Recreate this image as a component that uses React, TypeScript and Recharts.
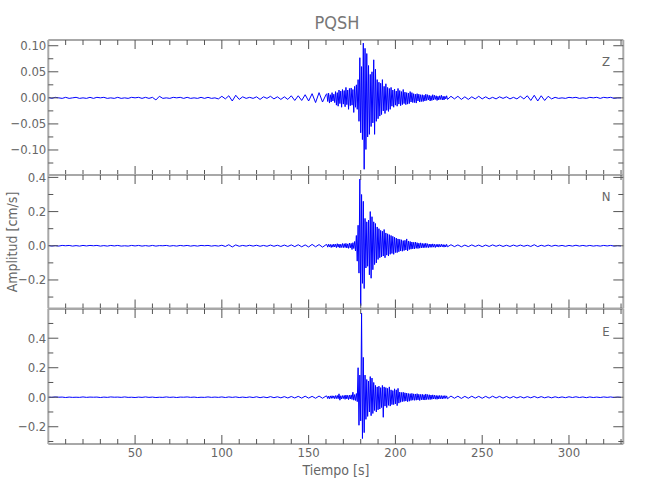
import { LineChart, Line, XAxis, YAxis } from "recharts"

// sampling: 0..160 s every 2 s, 160.5..230 s every 0.5 s, 232..330 s every 2 s
const EARLY_START = 0
const EARLY_STEP = 2
const BURST_START = 160.5
const BURST_STEP = 0.5
const LATE_START = 232
const LATE_STEP = 2

// Z component [cm/s]
const zEarly = [
  0.001, -0.001, 0.001, 0.0, -0.001, 0.001, -0.001, 0.0, 0.001, -0.001,
  0.0, -0.001, 0.001, -0.001, 0.001, 0.0, 0.001, -0.001, 0.0, -0.001,
  0.001, -0.001, 0.0, -0.001, 0.001, 0.0, 0.001, -0.001, 0.001, -0.001,
  0.001, -0.004, 0.003, -0.001, 0.0, -0.001, 0.001, 0.0, 0.001, -0.001,
  0.001, -0.001, 0.0, -0.001, 0.001, -0.001, 0.001, -0.001, 0.0, -0.002,
  0.003, -0.002, 0.004, -0.006, 0.005, -0.003, 0.002, -0.001, 0.001, -0.001,
  0.002, -0.003, 0.002, -0.001, 0.003, -0.002, 0.002, -0.003, 0.002, -0.003,
  0.004, -0.005, 0.004, -0.005, 0.006, -0.006, 0.008, -0.009, 0.010, -0.008,
  0.006,
]
const zBurst = [
  0.008, -0.007, 0.009, -0.010, 0.006, -0.008, 0.010, -0.006, 0.007, -0.009,
  0.012, -0.014, 0.010, -0.016, 0.015, -0.011, 0.013, -0.018, 0.016, -0.012,
  0.014, -0.017, 0.020, -0.013, 0.015, -0.022, 0.018, -0.015, 0.019, -0.014,
  0.016, -0.028, 0.022, -0.018, 0.025, -0.022,
  0.035, -0.045, 0.077, -0.067,
  0.060, -0.080, 0.105, -0.137,
  0.095, -0.099, 0.085, -0.075,
  0.062, -0.070, 0.045, -0.055,
  0.050, -0.048, 0.073, -0.070,
  0.055, -0.045, 0.035, -0.040,
  0.030, -0.035, 0.028, -0.032,
  0.035, -0.025, 0.022, -0.030,
  0.027, -0.024, 0.020, -0.026,
  0.018, -0.022, 0.020, -0.016,
  0.015, -0.018, 0.017, -0.014,
  0.013, -0.016, 0.018, -0.012, 0.014, -0.015, 0.012, -0.013, 0.016, -0.011,
  0.011, -0.013, 0.010, -0.012, 0.009, -0.011, 0.012, -0.008, 0.010, -0.009,
  0.008, -0.009, 0.007, -0.010, 0.008, -0.006, 0.007, -0.008, 0.006, -0.007,
  0.006, -0.007, 0.005, -0.006, 0.007, -0.005, 0.006, -0.004, 0.005, -0.006,
  0.004, -0.005, 0.006, -0.004, 0.005, -0.003, 0.004, -0.005, 0.003, -0.004,
  0.004, -0.003, 0.005, -0.004, 0.003, -0.004, 0.003, -0.002, 0.004, -0.003,
]
const zLate = [
  0.003, -0.002, 0.003, -0.003, 0.002, -0.003, 0.002, -0.002, 0.003, -0.002,
  0.002, -0.002, 0.001, -0.002, 0.002, -0.001, 0.002, -0.002, 0.001, -0.002,
  0.003, -0.002, 0.004, -0.005, 0.005, -0.006, 0.004, -0.005, 0.003, -0.002,
  0.001, -0.001, 0.0, -0.001, 0.001, 0.0, 0.001, -0.001, 0.0, -0.001,
  0.001, 0.0, 0.001, -0.001, 0.001, 0.0, 0.001, -0.001, 0.0, 0.0,
]

// N component
const nEarly = [
  0.002, -0.002, 0.001, -0.002, 0.002, 0.0, 0.002, -0.002, 0.001, -0.002,
  0.002, -0.001, 0.002, 0.0, 0.002, -0.002, 0.001, -0.002, 0.002, -0.001,
  0.002, -0.002, 0.0, -0.002, 0.002, -0.001, 0.002, -0.002, 0.001, -0.002,
  0.002, -0.002, 0.001, 0.0, 0.002, -0.002, 0.001, -0.002, 0.002, -0.001,
  0.002, -0.002, 0.001, -0.002, 0.002, 0.0, 0.002, -0.002, 0.001, -0.002,
  0.003, -0.004, 0.006, -0.007, 0.005, -0.003, 0.002, -0.002, 0.003, -0.002,
  0.003, -0.003, 0.002, -0.003, 0.004, -0.003, 0.003, -0.004, 0.004, -0.004,
  0.005, -0.005, 0.006, -0.006, 0.005, -0.007, 0.008, -0.006, 0.007, -0.008,
  0.006,
]
const nBurst = [
  0.007, -0.008, 0.009, -0.006, 0.008, -0.010, 0.007, -0.008, 0.010, -0.007,
  0.009, -0.011, 0.012, -0.008, 0.010, -0.012, 0.009, -0.010, 0.013, -0.011,
  0.012, -0.010, 0.014, -0.013, 0.011, -0.015, 0.016, -0.012, 0.014, -0.022,
  0.018, -0.016, 0.025, -0.030, 0.060, -0.090,
  0.120, -0.160, 0.390, -0.350,
  0.300, -0.220, 0.260, -0.250,
  0.160, -0.130, 0.140, -0.120,
  0.150, -0.170, 0.200, -0.190,
  0.170, -0.140, 0.140, -0.110,
  0.130, -0.100, 0.110, -0.080,
  0.100, -0.070, 0.090, -0.065,
  0.085, -0.060, 0.095, -0.070,
  0.075, -0.055, 0.070, -0.060,
  0.065, -0.050, 0.060, -0.045,
  0.055, -0.050, 0.050, -0.040,
  0.045, -0.040, 0.040, -0.035, 0.038, -0.030, 0.035, -0.032, 0.030, -0.028,
  0.032, -0.025, 0.040, -0.030, 0.028, -0.022, 0.025, -0.020, 0.022, -0.018,
  0.020, -0.018, 0.022, -0.015, 0.018, -0.016, 0.015, -0.014, 0.017, -0.012,
  0.014, -0.012, 0.013, -0.011, 0.015, -0.010, 0.012, -0.011, 0.010, -0.009,
  0.010, -0.009, 0.011, -0.008, 0.009, -0.010, 0.008, -0.007, 0.009, -0.008,
  0.008, -0.007, 0.009, -0.006, 0.007, -0.008, 0.006, -0.007, 0.008, -0.006,
]
const nLate = [
  0.006, -0.005, 0.005, -0.006, 0.004, -0.005, 0.005, -0.004, 0.004, -0.005,
  0.004, -0.004, 0.005, -0.003, 0.004, -0.004, 0.003, -0.004, 0.004, -0.003,
  0.004, -0.003, 0.003, -0.004, 0.006, -0.005, 0.003, -0.003, 0.004, -0.003,
  0.003, -0.002, 0.002, -0.003, 0.002, -0.002, 0.003, -0.002, 0.002, -0.002,
  0.002, -0.002, 0.001, -0.002, 0.002, -0.001, 0.002, -0.002, 0.001, -0.001,
]

// E component
const eEarly = [
  0.001, -0.001, 0.002, 0.0, 0.001, -0.002, 0.001, -0.001, 0.0, -0.001,
  0.002, -0.001, 0.001, 0.0, 0.001, -0.002, 0.001, -0.001, 0.002, 0.0,
  0.001, -0.001, 0.002, -0.001, 0.0, -0.002, 0.001, -0.001, 0.002, -0.001,
  0.001, -0.002, 0.0, -0.001, 0.002, -0.001, 0.001, -0.002, 0.001, 0.0,
  0.002, -0.001, 0.001, -0.002, 0.0, -0.001, 0.002, -0.001, 0.001, -0.001,
  0.002, -0.002, 0.002, -0.001, 0.002, -0.002, 0.001, -0.002, 0.002, -0.002,
  0.003, -0.003, 0.002, -0.003, 0.004, -0.003, 0.003, -0.004, 0.004, -0.005,
  0.005, -0.005, 0.006, -0.006, 0.007, -0.006, 0.006, -0.007, 0.008, -0.007,
  0.008,
]
const eBurst = [
  0.008, -0.009, 0.007, -0.010, 0.009, -0.008, 0.010, -0.007, 0.009, -0.010,
  0.011, -0.009, 0.012, -0.010, 0.023, -0.020, 0.010, -0.012, 0.011, -0.009,
  0.012, -0.014, 0.015, -0.011, 0.013, -0.016, 0.014, -0.012, 0.016, -0.015,
  0.034, -0.020, 0.018, -0.022, 0.025, -0.030,
  0.200, -0.190, 0.150, -0.160,
  0.570, -0.280, 0.270, -0.240,
  0.150, -0.150, 0.120, -0.130,
  0.110, -0.100, 0.140, -0.125,
  0.130, -0.110, 0.100, -0.090,
  0.080, -0.100, 0.070, -0.085,
  0.075, -0.080, 0.065, -0.070,
  0.080, -0.136, 0.070, -0.060,
  0.065, -0.070, 0.060, -0.055,
  0.070, -0.060, 0.050, -0.050,
  0.045, -0.050, 0.057, -0.045,
  0.050, -0.057, 0.060, -0.040, 0.035, -0.034, 0.032, -0.030, 0.034, -0.028,
  0.030, -0.026, 0.028, -0.030, 0.025, -0.027, 0.024, -0.022, 0.026, -0.020,
  0.023, -0.021, 0.022, -0.020, 0.024, -0.018, 0.020, -0.022, 0.019, -0.017,
  0.020, -0.018, 0.017, -0.019, 0.022, -0.016, 0.018, -0.015, 0.017, -0.016,
  0.015, -0.014, 0.016, -0.012, 0.014, -0.013, 0.012, -0.014, 0.011, -0.012,
  0.012, -0.010, 0.011, -0.012, 0.010, -0.009, 0.011, -0.008, 0.009, -0.010,
]
const eLate = [
  0.008, -0.007, 0.007, -0.008, 0.006, -0.007, 0.007, -0.006, 0.006, -0.007,
  0.006, -0.006, 0.007, -0.005, 0.006, -0.006, 0.005, -0.006, 0.005, -0.005,
  0.004, -0.005, 0.004, -0.004, 0.005, -0.004, 0.004, -0.004, 0.003, -0.004,
  0.003, -0.003, 0.002, -0.003, 0.003, -0.002, 0.003, -0.002, 0.002, -0.003,
  0.002, -0.002, 0.001, -0.002, 0.002, -0.001, 0.002, -0.002, 0.001, -0.001,
]

// axes
const xTicks = [10, 20, 30, 40, 50, 60, 70, 80, 90, 100, 110, 120, 130, 140, 150, 160, 170, 180, 190, 200, 210, 220, 230, 240, 250, 260, 270, 280, 290, 300, 310, 320, 330]
const xMajor = [50, 100, 150, 200, 250, 300]
const xLabels = ["50", "100", "150", "200", "250", "300"]

const zTicks = [-0.125, -0.1, -0.075, -0.05, -0.025, 0, 0.025, 0.05, 0.075, 0.1]
const zMajor = [-0.1, -0.05, 0, 0.05, 0.1]
const zLabels = ["\u22120.10", "\u22120.05", "0.00", "0.05", "0.10"]

const nTicks = [-0.3, -0.2, -0.1, 0, 0.1, 0.2, 0.3, 0.4]
const nMajor = [-0.2, 0, 0.2, 0.4]
const nLabels = ["\u22120.2", "0.0", "0.2", "0.4"]

const eTicks = [-0.3, -0.2, -0.1, 0, 0.1, 0.2, 0.3, 0.4, 0.5]
const eMajor = [-0.2, 0, 0.2, 0.4]
const eLabels = ["\u22120.2", "0.0", "0.2", "0.4"]

const FONT = "'Liberation Sans Narrow', 'DejaVu Sans Condensed', 'Roboto Condensed', sans-serif"
const FRAME = "#a8a8a8"
const TICK = "#555"
const TEXT = "#666"
const X_DOMAIN = [0, 331.3]
const PLOT_LEFT = 48.3
const PLOT_RIGHT = 623.3

function buildTrace(early: number[], burst: number[], late: number[]) {
  const rows: { t: number; v: number }[] = []
  early.forEach((v, i) => rows.push({ t: EARLY_START + i * EARLY_STEP, v }))
  burst.forEach((v, i) => rows.push({ t: BURST_START + i * BURST_STEP, v }))
  late.forEach((v, i) => rows.push({ t: LATE_START + i * LATE_STEP, v }))
  return rows
}

const same = (a: number, b: number) => Math.abs(a - b) < 1e-9

// tick marks point into the frame; label only on major ticks
function XTick(props: any) {
  const { x, y, payload, side, showLabel } = props
  const i = xMajor.findIndex((m) => same(m, payload.value))
  const len = i >= 0 ? 9 : 5
  const dir = side === "top" ? 1 : -1
  return (
    <g>
      <line x1={x} y1={y} x2={x} y2={y + dir * len} stroke={TICK} strokeWidth={1} />
      {showLabel && i >= 0 && (
        <text x={x} y={y + 13} textAnchor="middle" fontSize={13} fill={TEXT} fontFamily={FONT}>
          {xLabels[i]}
        </text>
      )}
    </g>
  )
}

function YTick(props: any) {
  const { x, y, payload, side, major, labels } = props
  const i = major.findIndex((m: number) => same(m, payload.value))
  const len = i >= 0 ? 10 : 5
  const dir = side === "left" ? 1 : -1
  return (
    <g>
      <line x1={x} y1={y} x2={x + dir * len} y2={y} stroke={TICK} strokeWidth={1} />
      {side === "left" && i >= 0 && (
        <text x={x - 2} y={y + 4.5} textAnchor="end" fontSize={13} fill={TEXT} fontFamily={FONT}>
          {labels[i]}
        </text>
      )}
    </g>
  )
}

interface PanelProps {
  rows: { t: number; v: number }[]
  domain: number[]
  ticks: number[]
  major: number[]
  labels: string[]
  top: number
  bottom: number
  showX: boolean
}

function Panel({ rows, domain, ticks, major, labels, top, bottom, showX }: PanelProps) {
  const axisLine = { stroke: FRAME, strokeWidth: 2 }
  return (
    <div style={{ position: "absolute", left: 0, top: 0 }}>
      <LineChart
        width={650}
        height={500}
        data={rows}
        margin={{ top: top - 1, right: 650 - PLOT_RIGHT - 1, bottom: 500 - bottom - 1, left: 0 }}
      >
        <XAxis
          xAxisId="b"
          dataKey="t"
          type="number"
          domain={X_DOMAIN}
          allowDataOverflow
          ticks={xTicks}
          interval={0}
          height={1}
          tickSize={0}
          tickMargin={0}
          axisLine={axisLine}
          tickLine={false}
          tick={(p: any) => <XTick {...p} side="bottom" showLabel={showX} />}
        />
        <XAxis
          xAxisId="t"
          orientation="top"
          dataKey="t"
          type="number"
          domain={X_DOMAIN}
          allowDataOverflow
          ticks={xTicks}
          interval={0}
          height={1}
          tickSize={0}
          tickMargin={0}
          axisLine={axisLine}
          tickLine={false}
          tick={(p: any) => <XTick {...p} side="top" showLabel={false} />}
        />
        <YAxis
          yAxisId="l"
          type="number"
          domain={domain}
          allowDataOverflow
          ticks={ticks}
          interval={0}
          width={PLOT_LEFT}
          tickSize={0}
          tickMargin={0}
          axisLine={axisLine}
          tickLine={false}
          tick={(p: any) => <YTick {...p} side="left" major={major} labels={labels} />}
        />
        <YAxis
          yAxisId="r"
          orientation="right"
          type="number"
          domain={domain}
          allowDataOverflow
          ticks={ticks}
          interval={0}
          width={1}
          tickSize={0}
          tickMargin={0}
          axisLine={axisLine}
          tickLine={false}
          tick={(p: any) => <YTick {...p} side="right" major={major} labels={labels} />}
        />
        <Line
          xAxisId="b"
          yAxisId="l"
          type="linear"
          dataKey="v"
          stroke="#0000ff"
          strokeWidth={1}
          dot={false}
          activeDot={false}
          isAnimationActive={false}
        />
      </LineChart>
    </div>
  )
}

export default function App() {
  const zRows = buildTrace(zEarly, zBurst, zLate)
  const nRows = buildTrace(nEarly, nBurst, nLate)
  const eRows = buildTrace(eEarly, eBurst, eLate)
  return (
    <div style={{ position: "relative", width: 650, height: 500, background: "#fff", fontFamily: FONT }}>
      <style>{`body{margin:0}`}</style>
      <Panel rows={zRows} domain={[-0.148, 0.111]} ticks={zTicks} major={zMajor} labels={zLabels} top={40} bottom={175} showX={false} />
      <Panel rows={nRows} domain={[-0.367, 0.414]} ticks={nTicks} major={nMajor} labels={nLabels} top={175} bottom={308.5} showX={false} />
      <Panel rows={eRows} domain={[-0.317, 0.598]} ticks={eTicks} major={eMajor} labels={eLabels} top={309} bottom={444} showX={true} />
      <svg width={650} height={500} style={{ position: "absolute", left: 0, top: 0, pointerEvents: "none" }}>
        <text x={337} y={29} textAnchor="middle" fontSize={18} fill="#777" fontFamily={FONT}>
          PQSH
        </text>
        <text x={606} y={66} textAnchor="middle" fontSize={13} fill={TEXT} fontFamily={FONT}>Z</text>
        <text x={606} y={201} textAnchor="middle" fontSize={13} fill={TEXT} fontFamily={FONT}>N</text>
        <text x={606} y={336} textAnchor="middle" fontSize={13} fill={TEXT} fontFamily={FONT}>E</text>
        <text x={336} y={475} textAnchor="middle" fontSize={14} fill={TEXT} fontFamily={FONT}>
          Tiempo [s]
        </text>
        <text
          x={0}
          y={0}
          transform="translate(17 242) rotate(-90)"
          textAnchor="middle"
          fontSize={14}
          fill={TEXT}
          fontFamily={FONT}
        >
          Amplitud [cm/s]
        </text>
      </svg>
    </div>
  )
}
